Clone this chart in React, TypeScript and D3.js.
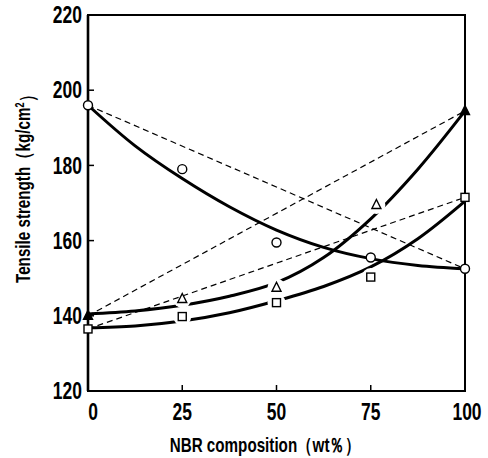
import { useMemo } from "react";
import * as d3 from "d3";

// measured points
const circlePts: [number, number][] = [[0, 196], [25, 179], [50, 159.5], [75, 155.5], [100, 152.5]];
const trianglePts: [number, number][] = [[0, 140], [25, 144.5], [50, 147.5], [76.5, 169.5], [100, 194.5]];
const squarePts: [number, number][] = [[0, 136.5], [25, 139.8], [50, 143.5], [75, 150.3], [100, 171.5]];

// drawn (fitted) curves
const curveX = [0, 12.5, 25, 37.5, 50, 62.5, 75, 87.5, 100];
const circleCurve = [196, 185.2, 176.5, 169, 162.8, 158.2, 155.2, 153.4, 152.5];
const triangleCurve = [140.5, 141.3, 142.8, 145.2, 148.8, 155.5, 165.8, 179, 194.5];
const squareCurve = [136.8, 137.3, 138.6, 140.8, 144, 147.8, 153, 160.5, 170.5];

const xTicks = [0, 25, 50, 75, 100];
const yTicks = [120, 140, 160, 180, 200, 220];

const W = 488, H = 458;
const font = "'Liberation Sans', Arial, sans-serif";
const SX = 0.76; // condensed look of the original lettering

export default function App() {
  const x = d3.scaleLinear().domain([0, 100]).range([88, 465]);
  const y = d3.scaleLinear().domain([120, 220]).range([391, 15]);

  const line = d3.line<number>().x((_, i) => x(curveX[i])).y((d) => y(d)).curve(d3.curveCatmullRom);

  const straight = (p: [number, number][]) =>
    `M${x(p[0][0])},${y(p[0][1])}L${x(p[p.length - 1][0])},${y(p[p.length - 1][1])}`;

  const tri = (cx: number, cy: number, s = 9) =>
    `M${cx},${cy - s * 0.6}L${cx + s / 2},${cy + s * 0.4}L${cx - s / 2},${cy + s * 0.4}Z`;

  const masks = useMemo(
    () => [
      { id: "mTri", pts: trianglePts.slice(1, 4) },
      { id: "mSq", pts: squarePts.slice(1, 4) },
    ],
    []
  );

  return (
    <svg width={W} height={H} style={{ position: "absolute", left: 0, top: 0, background: "#fff" }}>
      <defs>
        {masks.map((m) => (
          <mask id={m.id} key={m.id} maskUnits="userSpaceOnUse" x={0} y={0} width={W} height={H}>
            <rect x={0} y={0} width={W} height={H} fill="#fff" />
            {m.pts.map((p, i) => (
              <circle key={i} cx={x(p[0])} cy={y(p[1])} r={9} fill="#000" />
            ))}
          </mask>
        ))}
      </defs>

      {/* frame */}
      <rect x={88} y={15} width={377} height={376} fill="none" stroke="#000" strokeWidth={2} />
      <line x1={88} x2={88} y1={15} y2={391} stroke="#000" strokeWidth={2.6} />
      {yTicks.slice(1, -1).map((t) => (
        <line key={t} x1={88} x2={94} y1={y(t)} y2={y(t)} stroke="#000" strokeWidth={1.5} />
      ))}
      {xTicks.slice(1, -1).map((t) => (
        <line key={t} x1={x(t)} x2={x(t)} y1={391} y2={385} stroke="#000" strokeWidth={1.5} />
      ))}

      {/* tick labels */}
      <g fontFamily={font} fontWeight="bold" fontSize={23} fill="#000">
        {yTicks.map((t) => (
          <g key={t} transform={`translate(82,${y(t)}) scale(${SX},1)`}>
            <text dy="0.36em" textAnchor="end">{t}</text>
          </g>
        ))}
        {xTicks.map((t) => (
          <g key={t} transform={`translate(${x(t) + (t === 0 ? 5 : t === 100 ? 2 : 0)},412) scale(${SX},1)`}>
            <text dy="0.36em" textAnchor="middle">{t}</text>
          </g>
        ))}
      </g>

      {/* axis titles */}
      <g transform={`translate(265,445) scale(${SX},1)`}>
        <text dy="0.36em" textAnchor="middle" fontFamily={font} fontWeight="bold" fontSize={20}>
          NBR composition（wt％）
        </text>
      </g>
      <g transform={`translate(23,185) rotate(-90) scale(${SX},1)`}>
        <text dy="0.36em" textAnchor="middle" fontFamily={font} fontWeight="bold" fontSize={20}>
          Tensile strength（kg/cm<tspan dy="-0.5em" fontSize={12}>2</tspan><tspan dy="0.5em">）</tspan>
        </text>
      </g>

      {/* additivity lines */}
      <g fill="none" stroke="#000" strokeWidth={1.2} strokeDasharray="6 4">
        <path d={straight(circlePts)} />
        <path d={straight(trianglePts)} />
        <path d={straight(squarePts)} />
      </g>

      {/* fitted curves */}
      <g fill="none" stroke="#000" strokeWidth={3} strokeLinecap="round">
        <path d={line(circleCurve) || ""} />
        <path d={line(triangleCurve) || ""} mask="url(#mTri)" />
        <path d={line(squareCurve) || ""} mask="url(#mSq)" />
      </g>

      {/* markers */}
      <g stroke="#000" strokeWidth={1.4}>
        {circlePts.map((p, i) => (
          <circle key={i} cx={x(p[0])} cy={y(p[1])} r={4.5} fill="#fff" />
        ))}
        {squarePts.map((p, i) => (
          <rect key={i} x={x(p[0]) - 4} y={y(p[1]) - 4} width={8} height={8} fill="#fff" />
        ))}
        {trianglePts.map((p, i) => (
          <path key={i} d={tri(x(p[0]), y(p[1]))} fill={i === 0 || i === trianglePts.length - 1 ? "#000" : "#fff"} />
        ))}
      </g>
    </svg>
  );
}
